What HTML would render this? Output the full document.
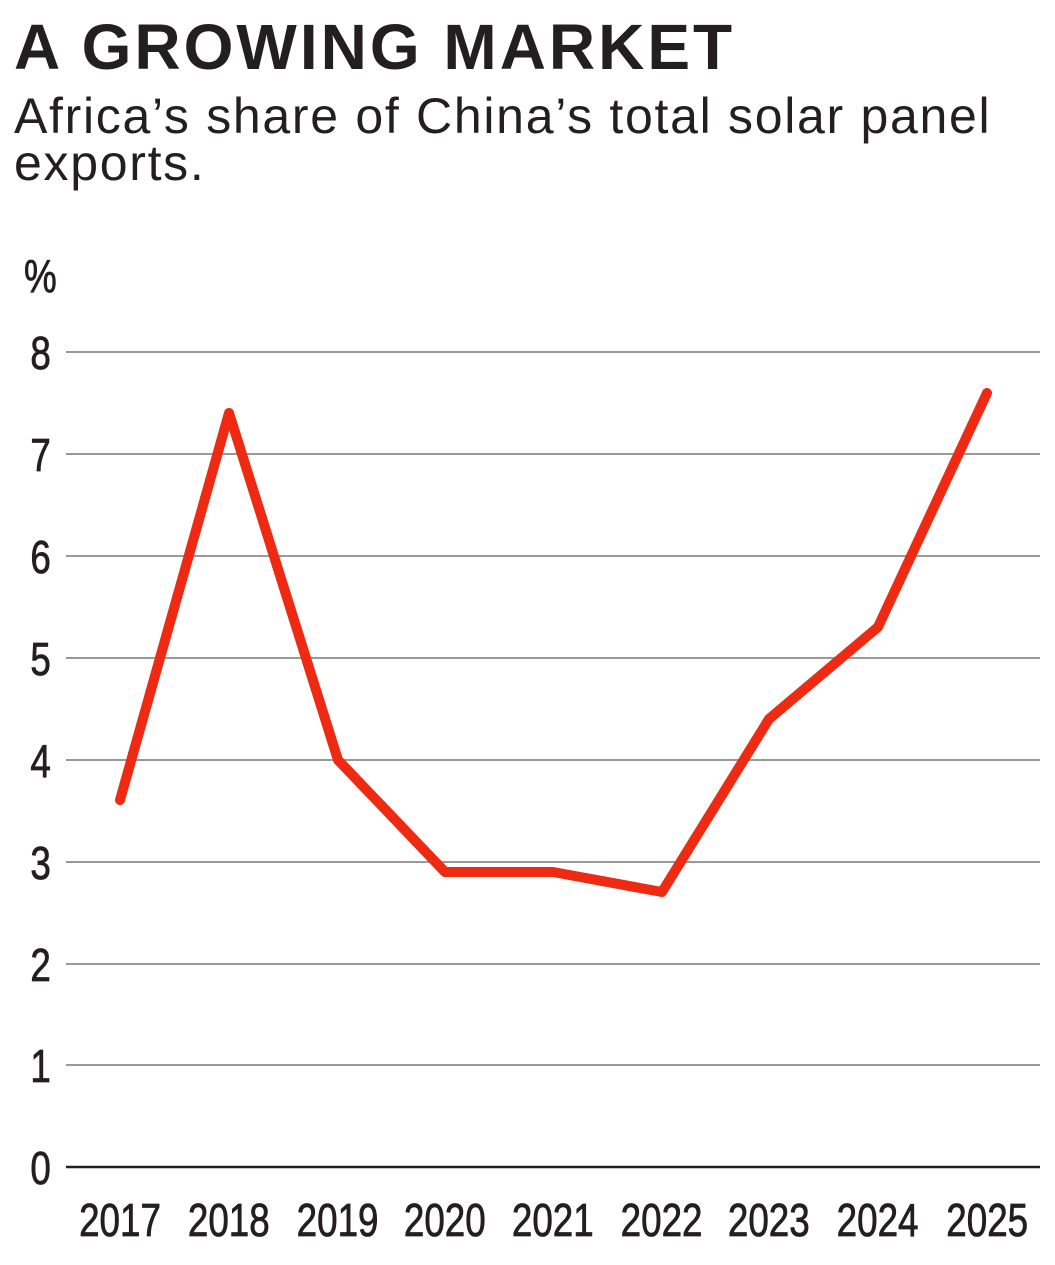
<!DOCTYPE html>
<html><head><meta charset="utf-8"><style>
html,body{margin:0;padding:0;background:#fff;}
body{width:1055px;height:1265px;position:relative;overflow:hidden;font-family:"Liberation Sans",sans-serif;color:#231f20;}
.t{position:absolute;left:14px;top:15px;font-size:64px;font-weight:bold;letter-spacing:3px;line-height:1;}
.s{position:absolute;left:14px;top:93px;font-size:50px;line-height:47px;letter-spacing:1.7px;}
</style></head><body>
<div class="t">A GROWING MARKET</div>
<div class="s">Africa’s share of China’s total solar panel<br>exports.</div>
<svg width="1055" height="1265" style="position:absolute;left:0;top:0" font-family="Liberation Sans Narrow, Liberation Sans, sans-serif" font-size="46" fill="#231f20" stroke="#231f20" stroke-width="0.8">
<g stroke="#999" stroke-width="2">
<line x1="66" x2="1040" y1="352" y2="352"/><line x1="66" x2="1040" y1="454" y2="454"/>
<line x1="66" x2="1040" y1="556" y2="556"/><line x1="66" x2="1040" y1="658" y2="658"/>
<line x1="66" x2="1040" y1="760" y2="760"/><line x1="66" x2="1040" y1="862" y2="862"/>
<line x1="66" x2="1040" y1="964" y2="964"/><line x1="66" x2="1040" y1="1065" y2="1065"/>
</g>
<line x1="66" x2="1040" y1="1167" y2="1167" stroke="#231f20" stroke-width="2.5"/>
<g transform="scale(0.8,1)">
<text x="30" y="292">%</text>
<text x="38" y="369">8</text><text x="38" y="471">7</text><text x="38" y="573">6</text>
<text x="38" y="675">5</text><text x="38" y="777">4</text><text x="38" y="879">3</text>
<text x="38" y="981">2</text><text x="38" y="1082">1</text><text x="38" y="1184">0</text>
<g text-anchor="middle">
<text x="150" y="1236">2017</text><text x="286" y="1236">2018</text><text x="422" y="1236">2019</text>
<text x="556" y="1236">2020</text><text x="691" y="1236">2021</text><text x="827" y="1236">2022</text>
<text x="961" y="1236">2023</text><text x="1097" y="1236">2024</text><text x="1234" y="1236">2025</text>
</g></g>
<polyline fill="none" stroke="#ee2a12" stroke-width="10" stroke-linejoin="round" stroke-linecap="round"
points="120,800 229,413 338,760 445,872 553,872 662,892 769,719 878,627 987,393"/>
</svg>
</body></html>
